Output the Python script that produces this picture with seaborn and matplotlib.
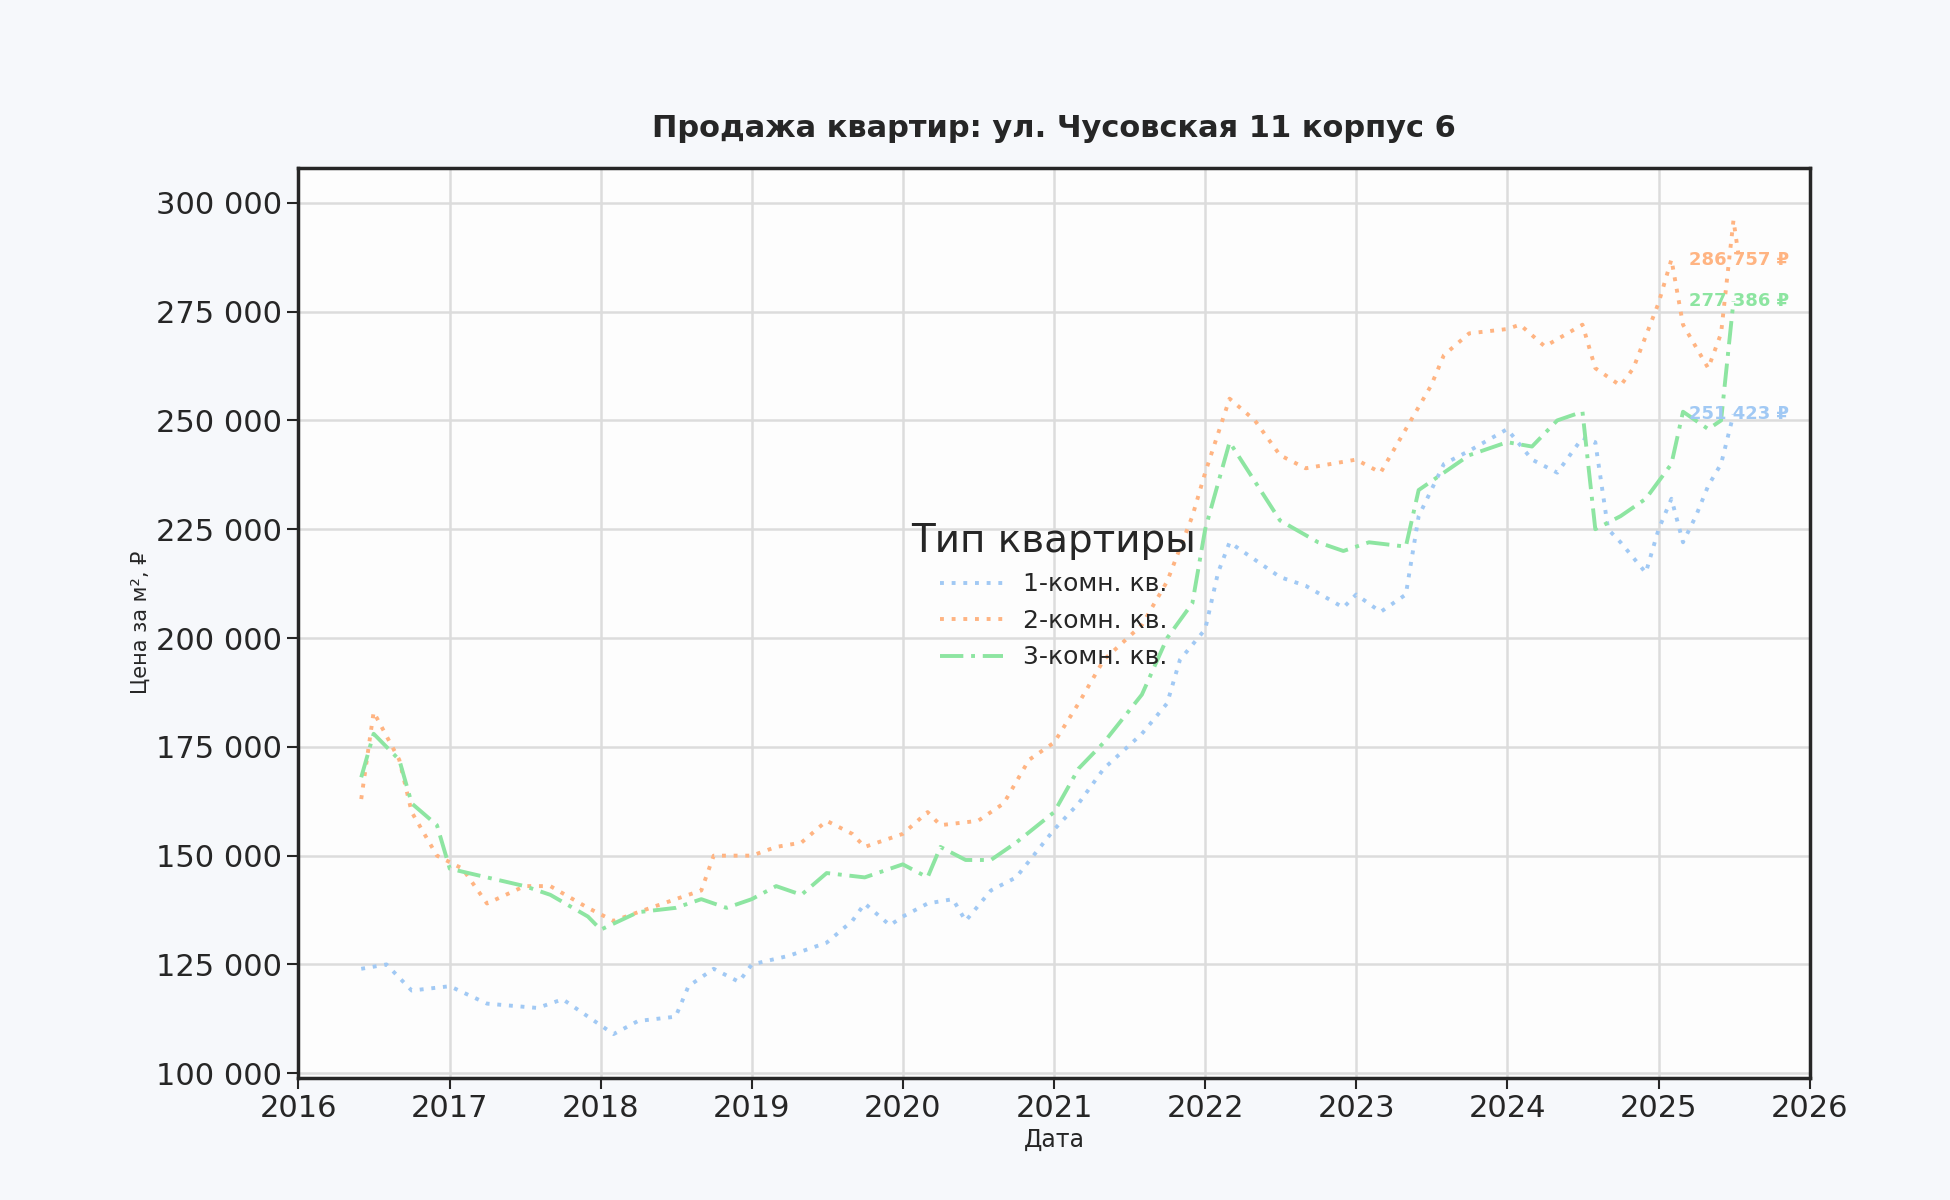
import matplotlib.pyplot as plt
import matplotlib.dates as mdates
import matplotlib.ticker as mticker
import seaborn as sns
import pandas as pd

# ---- data ----
dates_1k = ["2016-06", "2016-08", "2016-10", "2017-01", "2017-04", "2017-08", "2017-10", "2018-01",
            "2018-02", "2018-04", "2018-07", "2018-08", "2018-10", "2018-12", "2019-01", "2019-04",
            "2019-07", "2019-09", "2019-10", "2019-12", "2020-01", "2020-03", "2020-05", "2020-06",
            "2020-08", "2020-10", "2021-01", "2021-03", "2021-05", "2021-08", "2021-10", "2021-11",
            "2022-01", "2022-02", "2022-03", "2022-05", "2022-07", "2022-09", "2022-12", "2023-01",
            "2023-03", "2023-05", "2023-06", "2023-08", "2023-10", "2024-01", "2024-03", "2024-05",
            "2024-07", "2024-08", "2024-09", "2024-10", "2024-12", "2025-01", "2025-02", "2025-03",
            "2025-04", "2025-05", "2025-06", "2025-07"]
price_1k = [124, 125, 119, 120, 116, 115, 117, 111, 109, 112, 113, 120, 124, 121, 125, 127,
            130, 135, 139, 134, 136, 139, 140, 135, 142, 145, 156, 162, 170, 178, 185, 195,
            202, 215, 222, 218, 214, 212, 207, 210, 206, 210, 228, 240, 243, 248, 241, 238,
            246, 245, 225, 222, 215, 225, 232, 222, 228, 235, 240, 251.4]

dates_2k = ["2016-06", "2016-07", "2016-09", "2016-10", "2016-12", "2017-02", "2017-04", "2017-07",
            "2017-09", "2017-12", "2018-02", "2018-04", "2018-07", "2018-09", "2018-10", "2019-01",
            "2019-03", "2019-05", "2019-07", "2019-09", "2019-10", "2020-01", "2020-03", "2020-04",
            "2020-07", "2020-09", "2020-11", "2021-01", "2021-03", "2021-05", "2021-08", "2021-10",
            "2021-12", "2022-01", "2022-03", "2022-05", "2022-07", "2022-09", "2022-11", "2023-01",
            "2023-03", "2023-05", "2023-07", "2023-08", "2023-10", "2024-01", "2024-02", "2024-04",
            "2024-07", "2024-08", "2024-10", "2024-11", "2025-01", "2025-02", "2025-03", "2025-05",
            "2025-06", "2025-07", "2025-07-15"]
price_2k = [163, 183, 172, 160, 150, 147, 139, 143, 143, 138, 135, 137, 140, 142, 150, 150,
            152, 153, 158, 155, 152, 155, 160, 157, 158, 162, 172, 176, 185, 195, 203, 213,
            228, 238, 255, 250, 242, 239, 240, 241, 238, 248, 258, 265, 270, 271, 272, 267,
            272, 262, 258, 262, 277, 287, 272, 262, 270, 296, 286.8]

dates_3k = ["2016-06", "2016-07", "2016-09", "2016-10", "2016-12", "2017-01", "2017-04", "2017-07",
            "2017-09", "2017-12", "2018-01", "2018-04", "2018-07", "2018-09", "2018-11", "2019-01",
            "2019-03", "2019-05", "2019-07", "2019-10", "2020-01", "2020-03", "2020-04", "2020-06",
            "2020-08", "2020-10", "2021-01", "2021-03", "2021-05", "2021-08", "2021-10", "2021-12",
            "2022-01", "2022-03", "2022-05", "2022-07", "2022-10", "2022-12", "2023-02", "2023-05",
            "2023-06", "2023-08", "2023-10", "2024-01", "2024-03", "2024-05", "2024-07", "2024-08",
            "2024-10", "2024-12", "2025-02", "2025-03", "2025-05", "2025-06", "2025-07"]
price_3k = [168, 178, 172, 162, 157, 147, 145, 143, 141, 136, 133, 137, 138, 140, 138, 140,
            143, 141, 146, 145, 148, 145, 152, 149, 149, 153, 160, 170, 176, 187, 200, 208,
            225, 245, 236, 227, 222, 220, 222, 221, 234, 238, 242, 245, 244, 250, 252, 225,
            228, 232, 240, 252, 248, 250, 277.4]

labels = ["1-комн. кв.", "2-комн. кв.", "3-комн. кв."]
last_values = ["251 423 ₽", "286 757 ₽", "277 386 ₽"]

frames = []
for lab, d, p in zip(labels, [dates_1k, dates_2k, dates_3k], [price_1k, price_2k, price_3k]):
    frames.append(pd.DataFrame({"Дата": pd.to_datetime(d, format="ISO8601"),
                                "price": [v * 1000 for v in p], "Тип квартиры": lab}))
df = pd.concat(frames, ignore_index=True)

# ---- plot ----
sns.set_theme(style="whitegrid")
plt.rcParams["font.family"] = ["DejaVu Sans"]
colors = sns.color_palette("pastel")[:3]

fig = plt.figure(figsize=(19.5, 12), dpi=100, facecolor="#f6f8fb")
ax = fig.add_axes([0.153, 0.102, 0.775, 0.758])
ax.set_facecolor("#fdfdfd")

styles = {labels[0]: (1, 2), labels[1]: (1, 2), labels[2]: (6, 2, 1, 2)}
sns.lineplot(data=df, x="Дата", y="price", hue="Тип квартиры", style="Тип квартиры",
             dashes=styles, palette=colors, linewidth=2.8, ax=ax)

for lab, val, col, p in zip(labels, last_values, colors, [price_1k, price_2k, price_3k]):
    ax.text(pd.Timestamp("2025-03-15"), p[-1] * 1000, val, color=col, fontsize=13,
            fontweight="bold", va="center", ha="left")

ax.set_xlim(pd.Timestamp("2016-01-01"), pd.Timestamp("2026-01-01"))
ax.set_ylim(99000, 308000)
ax.xaxis.set_major_locator(mdates.YearLocator())
ax.xaxis.set_major_formatter(mdates.DateFormatter("%Y"))
ax.yaxis.set_major_locator(mticker.MultipleLocator(25000))
ax.yaxis.set_major_formatter(mticker.FuncFormatter(lambda v, _: f"{int(v):,}".replace(",", " ")))
ax.tick_params(labelsize=22, length=8, width=1.5, colors="#262626", bottom=True, left=True)
ax.grid(color="#dcdcdc", linewidth=1.8)
for s in ax.spines.values():
    s.set_color("#262626")
    s.set_linewidth(2.5)

ax.set_title("Продажа квартир: ул. Чусовская 11 корпус 6", fontsize=22, fontweight="bold",
             color="#262626", pad=22)
ax.set_xlabel("Дата", fontsize=17, color="#262626")
ax.set_ylabel("Цена за м², ₽", fontsize=15, color="#262626")

leg = ax.legend(title="Тип квартиры", loc="center", bbox_to_anchor=(0.5, 0.53), frameon=False,
                fontsize=18, title_fontsize=28, handlelength=2.5)

fig.savefig("out.png", dpi=100, facecolor=fig.get_facecolor())
